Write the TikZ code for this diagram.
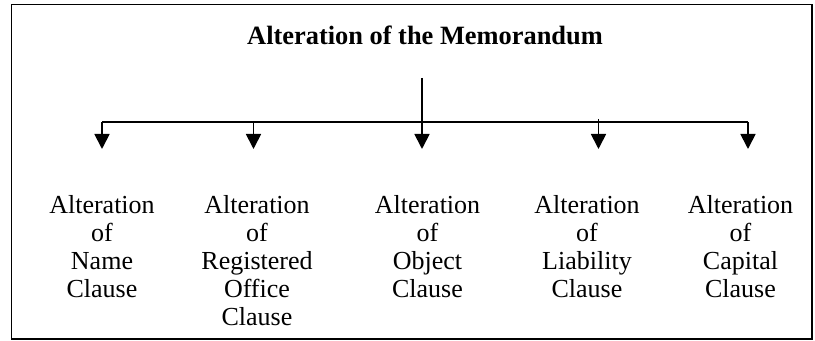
\documentclass[tikz,border=0pt]{standalone}
\usepackage{fontspec}
\setmainfont{Liberation Serif}
\usetikzlibrary{arrows.meta}
\tikzset{
  frame/.style={draw=black,line width=0.75pt},
  link/.style={draw=black,line width=0.9pt},
  branch/.style={link,-{Triangle[width=7.5pt,length=7.5pt]}},
  heading/.style={font=\fontsize{13.2}{15}\selectfont\bfseries,inner sep=0pt,anchor=base},
  leaf/.style={font=\fontsize{13}{14}\selectfont,align=center,inner sep=0pt,anchor=north}
}
\begin{document}
\begin{tikzpicture}[x=0.5pt,y=-0.5pt]
  \useasboundingbox (0,0) rectangle (815,341);
  % outer frame
  \draw[frame] (11.5,4.5) rectangle (812,339);

  % heading
  \node[heading] (title) at (425,45) {Alteration of the Memorandum};

  % branch points
  \coordinate (top) at (422,78);
  \coordinate (b1) at (102,122);
  \coordinate (b2) at (253.5,122);
  \coordinate (b3) at (422,122);
  \coordinate (b4) at (598.5,119);
  \coordinate (b5) at (748,122);
  \coordinate (t1) at (102,149);
  \coordinate (t2) at (253.5,149);
  \coordinate (t3) at (422,149);
  \coordinate (t4) at (598.5,149);
  \coordinate (t5) at (748,149);

  % leaves
  \node[leaf] (n1) at (102,195)   {Alteration\\of\\Name\\Clause};
  \node[leaf] (n2) at (257,195)   {Alteration\\of\\Registered\\Office\\Clause};
  \node[leaf] (n3) at (427.5,195) {Alteration\\of\\Object\\Clause};
  \node[leaf] (n4) at (587,195)   {Alteration\\of\\Liability\\Clause};
  \node[leaf] (n5) at (740.5,195) {Alteration\\of\\Capital\\Clause};

  % connectors
  \draw[link] (b1) -- (b5 |- b1);
  \draw[branch] (top) -- (t3);
  \draw[branch] (b1) -- (t1);
  \draw[branch] (b2) -- (t2);
  \draw[branch] (b4) -- (t4);
  \draw[branch] (b5) -- (t5);
\end{tikzpicture}
\end{document}
